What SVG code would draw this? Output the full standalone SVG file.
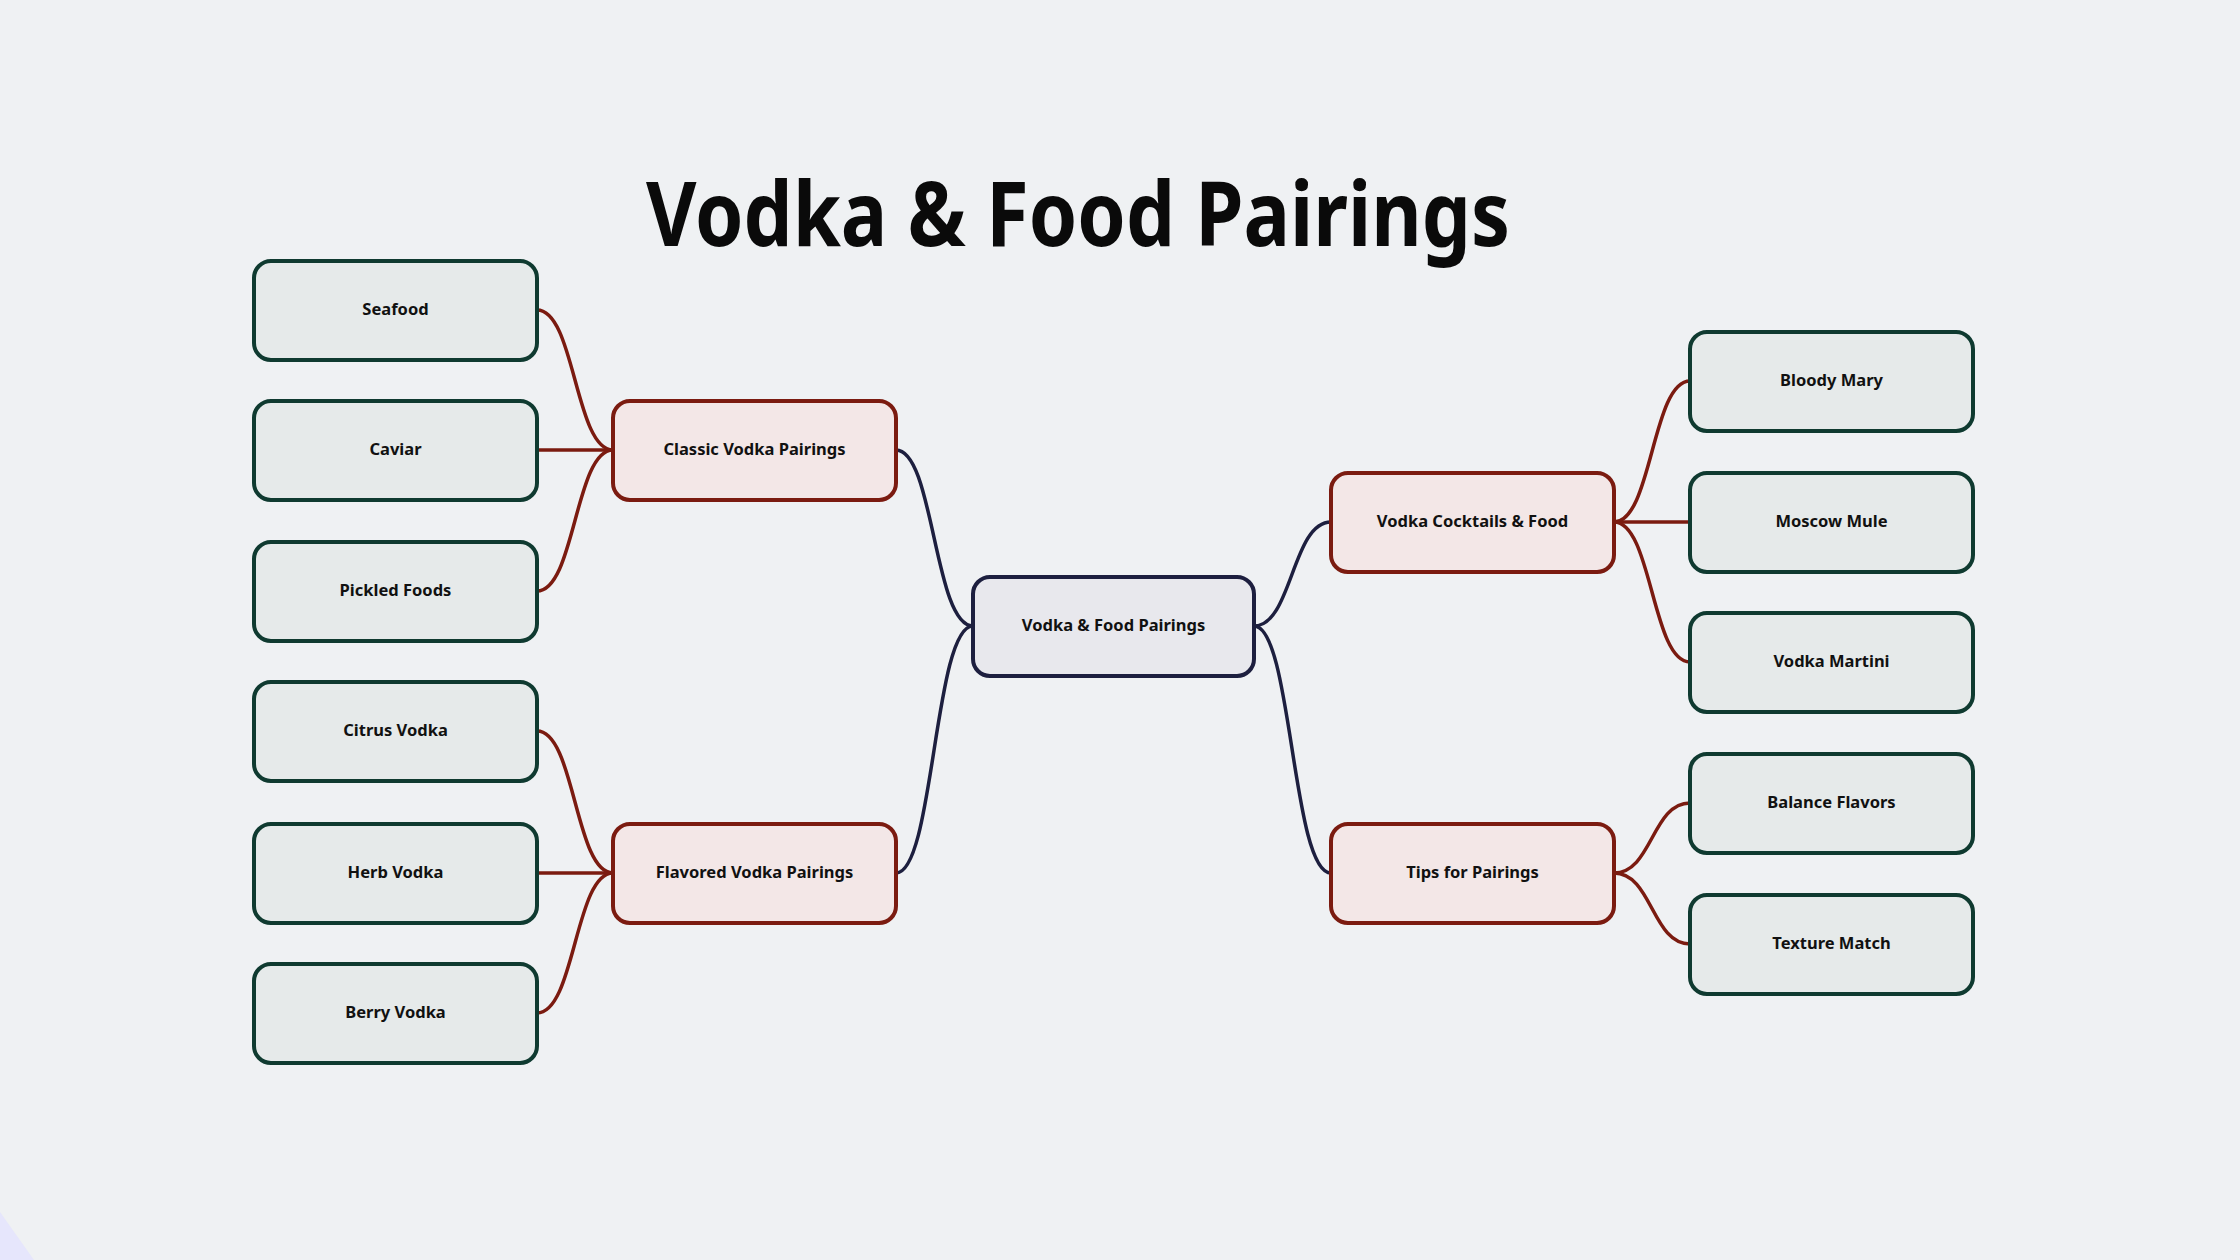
<svg xmlns="http://www.w3.org/2000/svg" width="2240" height="1260" viewBox="0 0 2240 1260">
<style>
.leaf rect{fill:#e6eaea;stroke:#0f3a30;stroke-width:4}
.branch rect{fill:#f3e7e7;stroke:#7b1b10;stroke-width:4}
.root rect{fill:#e8e8ed;stroke:#1d1f3f;stroke-width:4}
text.lbl{font-family:"Noto Sans","Open Sans","Liberation Sans",sans-serif;font-weight:700;font-size:16.5px;fill:#111;text-anchor:middle;dominant-baseline:central}
.c-red{fill:none;stroke:#7b1b10;stroke-width:3.5}
.c-navy{fill:none;stroke:#1d1f3f;stroke-width:3.5}
</style>
<rect x="0" y="0" width="2240" height="1260" fill="#eff1f3"/>
<polygon points="0,1212 34,1260 0,1260" fill="#e6e6fc"/>
<text x="1078" y="246" font-family="'Noto Sans','Liberation Sans',sans-serif" font-weight="700" font-size="90" text-anchor="middle" textLength="864" lengthAdjust="spacingAndGlyphs" fill="#0a0a0a">Vodka &amp; Food Pairings</text>
<g id="connectors">
<path class="c-red" d="M537,310 C575,310 575,450 613,450"/>
<path class="c-red" d="M537,450 L613,450"/>
<path class="c-red" d="M537,591 C575,591 575,450 613,450"/>
<path class="c-red" d="M537,731 C575,731 575,873 613,873"/>
<path class="c-red" d="M537,873 L613,873"/>
<path class="c-red" d="M537,1013 C575,1013 575,873 613,873"/>
<path class="c-navy" d="M973,626 C934,626 934,450 896,450"/>
<path class="c-navy" d="M973,626 C934,626 934,873 896,873"/>
<path class="c-navy" d="M1254,626 C1292,626 1292,522 1331,522"/>
<path class="c-navy" d="M1254,626 C1292,626 1292,873 1331,873"/>
<path class="c-red" d="M1614,522 C1652,522 1652,381 1690,381"/>
<path class="c-red" d="M1614,522 L1690,522"/>
<path class="c-red" d="M1614,522 C1652,522 1652,662 1690,662"/>
<path class="c-red" d="M1614,873 C1652,873 1652,803 1690,803"/>
<path class="c-red" d="M1614,873 C1652,873 1652,944 1690,944"/>
</g>
<g id="root" class="root"><rect x="973" y="577" width="281" height="99" rx="17"/><text class="lbl" x="1113.5" y="624.5">Vodka &amp; Food Pairings</text></g>
<g id="classic" class="branch"><rect x="613" y="401" width="283" height="99" rx="17"/><text class="lbl" x="754.5" y="448.5">Classic Vodka Pairings</text></g>
<g id="flavored" class="branch"><rect x="613" y="824" width="283" height="99" rx="17"/><text class="lbl" x="754.5" y="871.5">Flavored Vodka Pairings</text></g>
<g id="cocktails" class="branch"><rect x="1331" y="473" width="283" height="99" rx="17"/><text class="lbl" x="1472.5" y="520.5">Vodka Cocktails &amp; Food</text></g>
<g id="tips" class="branch"><rect x="1331" y="824" width="283" height="99" rx="17"/><text class="lbl" x="1472.5" y="871.5">Tips for Pairings</text></g>
<g id="seafood" class="leaf"><rect x="254" y="261" width="283" height="99" rx="17"/><text class="lbl" x="395.5" y="308.5">Seafood</text></g>
<g id="caviar" class="leaf"><rect x="254" y="401" width="283" height="99" rx="17"/><text class="lbl" x="395.5" y="448.5">Caviar</text></g>
<g id="pickled" class="leaf"><rect x="254" y="542" width="283" height="99" rx="17"/><text class="lbl" x="395.5" y="589.5">Pickled Foods</text></g>
<g id="citrus" class="leaf"><rect x="254" y="682" width="283" height="99" rx="17"/><text class="lbl" x="395.5" y="729.5">Citrus Vodka</text></g>
<g id="herb" class="leaf"><rect x="254" y="824" width="283" height="99" rx="17"/><text class="lbl" x="395.5" y="871.5">Herb Vodka</text></g>
<g id="berry" class="leaf"><rect x="254" y="964" width="283" height="99" rx="17"/><text class="lbl" x="395.5" y="1011.5">Berry Vodka</text></g>
<g id="bloody" class="leaf"><rect x="1690" y="332" width="283" height="99" rx="17"/><text class="lbl" x="1831.5" y="379.5">Bloody Mary</text></g>
<g id="moscow" class="leaf"><rect x="1690" y="473" width="283" height="99" rx="17"/><text class="lbl" x="1831.5" y="520.5">Moscow Mule</text></g>
<g id="martini" class="leaf"><rect x="1690" y="613" width="283" height="99" rx="17"/><text class="lbl" x="1831.5" y="660.5">Vodka Martini</text></g>
<g id="balance" class="leaf"><rect x="1690" y="754" width="283" height="99" rx="17"/><text class="lbl" x="1831.5" y="801.5">Balance Flavors</text></g>
<g id="texture" class="leaf"><rect x="1690" y="895" width="283" height="99" rx="17"/><text class="lbl" x="1831.5" y="942.5">Texture Match</text></g>
</svg>
